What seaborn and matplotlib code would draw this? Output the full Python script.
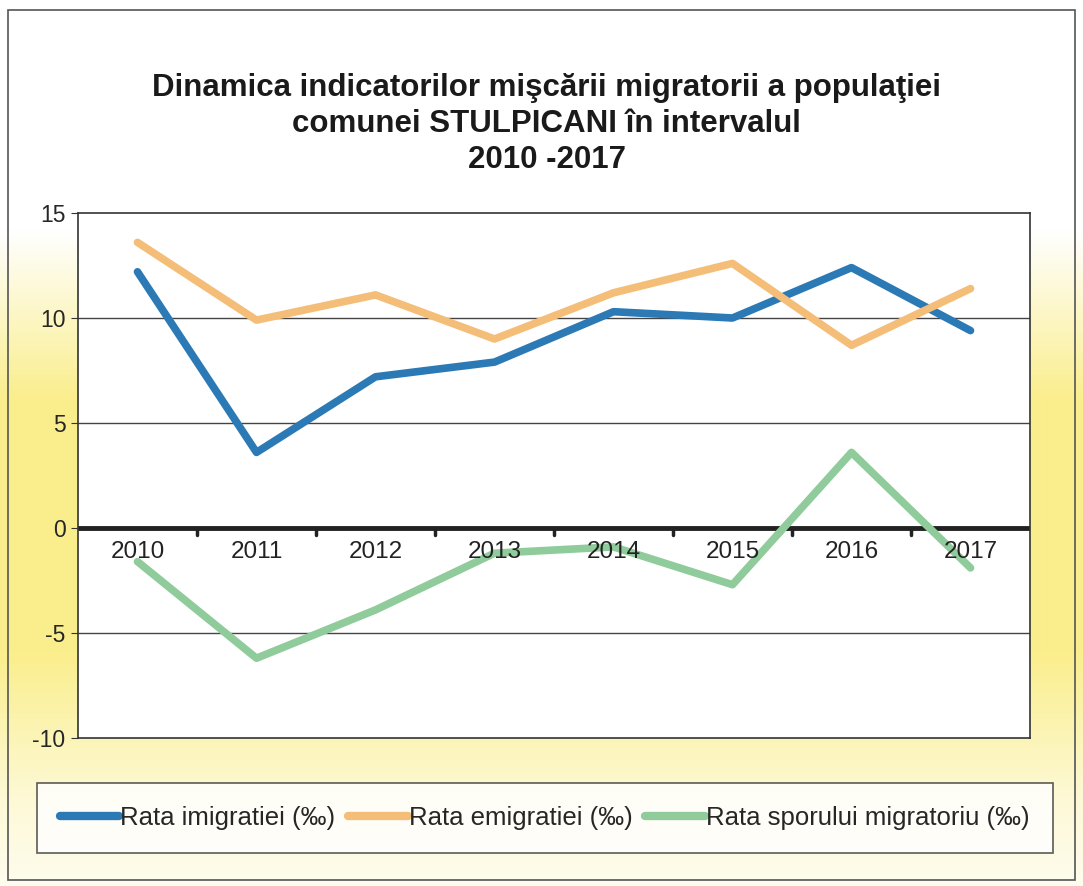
import numpy as np
import pandas as pd
import matplotlib
matplotlib.use("Agg")
import matplotlib.pyplot as plt
import seaborn as sns
from matplotlib.patches import Rectangle
from matplotlib.lines import Line2D

years = [2010, 2011, 2012, 2013, 2014, 2015, 2016, 2017]
imigratie = [12.2, 3.6, 7.2, 7.9, 10.3, 10.0, 12.4, 9.4]
emigratie = [13.6, 9.9, 11.1, 9.0, 11.2, 12.6, 8.7, 11.4]
spor = [-1.6, -6.2, -3.9, -1.2, -0.9, -2.7, 3.6, -1.9]

series_names = ["Rata imigratiei (‰)", "Rata emigratiei (‰)", "Rata sporului migratoriu (‰)"]
colors = ["#2b79b5", "#f4bd78", "#8fcb9b"]

df = pd.DataFrame({
    "pos": list(range(len(years))) * 3,
    "value": imigratie + emigratie + spor,
    "serie": [s for s in series_names for _ in years],
})

sns.set_style("white")
plt.rcParams["font.family"] = ["Liberation Sans", "DejaVu Sans"]

fig = plt.figure(figsize=(10.83, 8.86), dpi=100)

# yellowish gradient of the chart area
bg = fig.add_axes([0, 0, 1, 1], zorder=-5)
h = 886
yy = np.arange(h)
inten = np.interp(yy, [0, 230, 400, 650, 800, 886], [0, 0, 1, 1, 0.35, 0.15])
yellow = np.array([250, 238, 140]) / 255
img = 1 - inten[:, None] * (1 - yellow[None, :])
img = np.repeat(img[:, None, :], 10, axis=1)
bg.imshow(img, aspect="auto", extent=[0, 1, 0, 1], origin="upper")
bg.set_axis_off()
fig.patches.append(Rectangle((8 / 1083, 6 / 886), 1067 / 1083, 870 / 886, transform=fig.transFigure,
                             fill=False, edgecolor="#555555", linewidth=1.2, zorder=10))

ax = fig.add_axes([78 / 1083, 1 - 738 / 886, 952 / 1083, 525 / 886])
ax.set_facecolor("white")
sns.lineplot(data=df, x="pos", y="value", hue="serie", palette=colors, linewidth=5.5,
             legend=False, ax=ax)

ax.set_xlim(-0.5, len(years) - 0.5)
ax.set_ylim(-10, 15)
ax.set_yticks([-10, -5, 0, 5, 10, 15])
ax.set_yticklabels(["-10", "-5", "0", "5", "10", "15"], fontsize=16.5)
for v in [-5, 5, 10]:
    ax.axhline(v, color="#444444", linewidth=1, zorder=0)
ax.axhline(0, color="#222222", linewidth=3.5, zorder=1)
for b in np.arange(0.5, len(years) - 1, 1):
    ax.plot([b, b], [0, -0.35], color="#222222", linewidth=2.5, zorder=1)
ax.set_xticks([])
for i, yr in enumerate(years):
    ax.text(i, -0.6, str(yr), ha="center", va="top", fontsize=17.5, color="#222222")
for s in ax.spines.values():
    s.set_color("#333333")
    s.set_linewidth(1.2)
ax.tick_params(axis="y", length=5, color="#333333", pad=4, left=True)
ax.set_xlabel("")
ax.set_ylabel("")

fig.text(0.505, 1 - 124 / 886,
         "Dinamica indicatorilor mişcării migratorii a populaţiei\ncomunei STULPICANI în intervalul\n2010 -2017",
         ha="center", va="center", fontsize=22.5, fontweight="bold", linespacing=1.27, color="#1a1a1a")

handles = [Line2D([0], [0], color=c, linewidth=6) for c in colors]
leg = fig.legend(handles, series_names, loc="center", bbox_to_anchor=(0.503, 1 - 818 / 886),
                 ncol=3, fontsize=18.5, frameon=True, fancybox=False, handlelength=2.3,
                 handletextpad=0.05, columnspacing=0.5, borderpad=0.9)
leg.get_frame().set_edgecolor("#333333")
leg.get_frame().set_linewidth(1.2)
leg.get_frame().set_facecolor("white")

fig.savefig("out.png", dpi=100)
